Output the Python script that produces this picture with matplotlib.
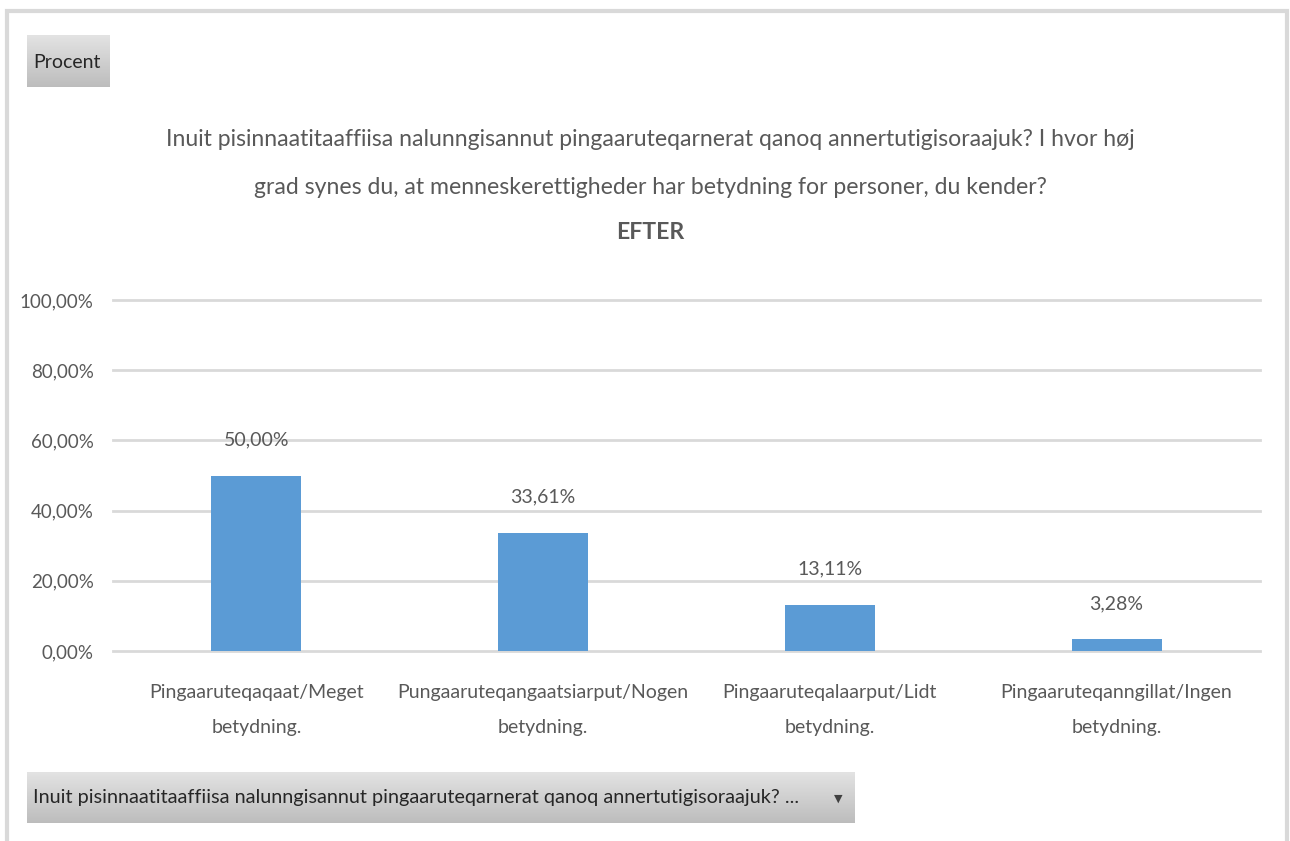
import matplotlib
matplotlib.use("Agg")
import matplotlib.pyplot as plt
import numpy as np
from matplotlib.patches import Rectangle

plt.rcParams['font.family'] = ['Lato', 'DejaVu Sans']

categories = ["Pingaaruteqaqaat/Meget\nbetydning.",
              "Pungaaruteqangaatsiarput/Nogen\nbetydning.",
              "Pingaaruteqalaarput/Lidt\nbetydning.",
              "Pingaaruteqanngillat/Ingen\nbetydning."]
values = [50.00, 33.61, 13.11, 3.28]
yticks = [0, 20, 40, 60, 80, 100]
title_lines = ["Inuit pisinnaatitaaffiisa nalunngisannut pingaaruteqarnerat qanoq annertutigisoraajuk? I hvor høj",
               "grad synes du, at menneskerettigheder har betydning for personer, du kender?"]
title_bold = "EFTER"
field_button = "Procent"
filter_button = "Inuit pisinnaatitaaffiisa nalunngisannut pingaaruteqarnerat qanoq annertutigisoraajuk? ..."

W, H = 1290, 841
fig = plt.figure(figsize=(W/100, H/100), dpi=100)
fig.patch.set_facecolor('white')

def fx(x): return x / W
def fy(y): return 1 - y / H

TXT = '#595959'

# outer frame
fig.patches.append(Rectangle((fx(7), fy(845)), fx(1287-7), (845-11)/H, transform=fig.transFigure,
                             fill=False, edgecolor='#d9d9d9', lw=3))

# gradient buttons
def button(x0, y0, x1, y1):
    a = fig.add_axes([fx(x0), fy(y1), fx(x1-x0), (y1-y0)/H])
    grad = np.linspace(0, 1, 100).reshape(-1, 1)
    top = np.array([0.89, 0.89, 0.89]); bot = np.array([0.74, 0.74, 0.74])
    img = top + (bot - top) * grad[:, :, None]
    img = np.repeat(img, 2, axis=1)
    a.imshow(img, aspect='auto', extent=[0, 1, 0, 1])
    a.set_axis_off()
    return a

button(27, 35, 109, 87)
fig.text(fx(33), fy(62), field_button, fontsize=14, color='#262626', va='center', ha='left')
button(27, 772, 855, 823)
fig.text(fx(33), fy(798), filter_button, fontsize=14.3, color='#262626', va='center', ha='left')
fig.text(fx(838), fy(799), "▼", fontsize=8, color='#404040', va='center', ha='center', family='DejaVu Sans')

# titles
fig.text(fx(650), fy(140), title_lines[0], fontsize=16.6, color=TXT, ha='center', va='center')
fig.text(fx(650), fy(187), title_lines[1], fontsize=16.6, color=TXT, ha='center', va='center')
fig.text(fx(650), fy(233), title_bold, fontsize=16.6, color=TXT, ha='center', va='center', fontweight='bold')

# plot axes
x0, x1, ytop, ybot = 113, 1260, 300, 651
ax = fig.add_axes([fx(x0), fy(ybot), fx(x1-x0), (ybot-ytop)/H])
x = np.arange(len(categories))
ax.bar(x, values, width=0.314, color='#5b9bd5', zorder=3)
ax.set_xlim(-0.5, len(categories)-0.5)
ax.set_ylim(0, 100)
ax.set_yticks(yticks)
ax.set_yticklabels([f"{v:.2f}%".replace('.', ',') for v in yticks], fontsize=13.5, color=TXT)
for v in yticks:
    ax.axhline(v, color='#d9d9d9', lw=2, zorder=1, clip_on=False)
ax.tick_params(axis='y', length=0, pad=14)
ax.set_xticks(x)
ax.set_xticklabels(categories, fontsize=14, color=TXT, linespacing=2.25)
ax.tick_params(axis='x', length=0, pad=24)
for s in ax.spines.values():
    s.set_visible(False)
ax.set_facecolor('none')
for xi, v in zip(x, values):
    ax.annotate(f"{v:.2f}%".replace('.', ','), (xi, v), xytext=(0, 36), textcoords='offset pixels',
                ha='center', va='center', fontsize=14, color=TXT)

fig.savefig('out.png', dpi=100, facecolor='white')
